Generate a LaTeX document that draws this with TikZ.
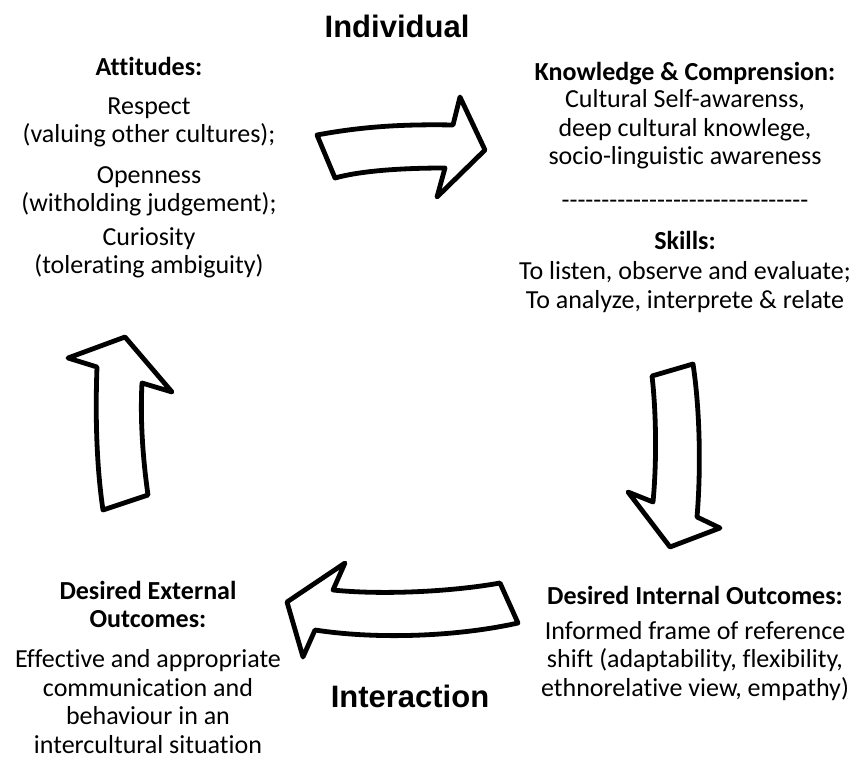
\documentclass[tikz,border=0pt]{standalone}
\usepackage{fontspec}
\setmainfont{Carlito}[Ligatures={TeX,NoCommon}]
\newfontfamily\titlefont{Liberation Sans}
\tikzset{txt/.style={align=center,inner sep=0pt,anchor=north,font=\fontsize{26}{28.5}\selectfont},
title/.style={inner sep=0pt,font=\titlefont\bfseries\fontsize{31}{36}\selectfont},
bigarrow/.style={draw,fill=white,line width=4.8pt,line join=round}}
\newcommand\dashrow{\foreach \n in {1,...,31}{\mbox{-}}}

\begin{document}
\begin{tikzpicture}[x=1pt,y=-1pt]
\useasboundingbox (0,0) rectangle (859,759);
\node[title] (indiv) at (397,26) {Individual};
\node[title] (interact) at (410,696) {Interaction};

\node[txt] (attitudes) at (149,57) {\textbf{Attitudes:}\\[10.5pt] Respect\\ (valuing other cultures);\\[12pt]
Openness\\ (witholding judgement);\\[5pt] Curiosity\\ (tolerating ambiguity)};
\node[txt] (knowledge) at (685,62) {\textbf{Knowledge \& Comprension:}\\[-1pt] Cultural Self-awarenss,\\ deep cultural knowlege,\\
socio-linguistic awareness\\[15.5pt] \dashrow\\[12.5pt] \textbf{Skills:}\\[1.5pt] To listen, observe and evaluate;\\ To analyze, interprete \& relate};
\node[txt] (external) at (148,581) {\textbf{Desired External}\\ \textbf{Outcomes:}\\[11.5pt] Effective and appropriate\\
communication and\\ behaviour in an\\ intercultural situation};
\node[txt] (internal) at (695,586) {\textbf{Desired Internal Outcomes:}\\[6.5pt] Informed frame of reference\\
shift (adaptability, flexibility,\\ ethnorelative view, empathy)};

% arrows round the cycle
\draw[bigarrow] (317,135) .. controls (360,127) and (400,124) .. (453,125) -- (460,97) -- (485,150) -- (437,197) -- (445,168) .. controls (400,168) and (360,171) .. (335,178) -- cycle;
\draw[bigarrow] (693,364) .. controls (700,410) and (701,470) .. (697,517) -- (720,528) -- (670,547) -- (628,492) -- (653,502) .. controls (657,460) and (656,410) .. (652,376) -- cycle;
\draw[bigarrow] (518,623) .. controls (460,636) and (380,640) .. (315,630) -- (303,657) -- (287,602) -- (345,563) -- (333,590) .. controls (380,595) and (450,592) .. (500,583) -- cycle;
\draw[bigarrow] (148,495) .. controls (143,460) and (140,420) .. (142,383) -- (172,392) -- (125,337) -- (68,358) -- (97,367) .. controls (95,420) and (97,470) .. (103,510) -- cycle;
\end{tikzpicture}
\end{document}
